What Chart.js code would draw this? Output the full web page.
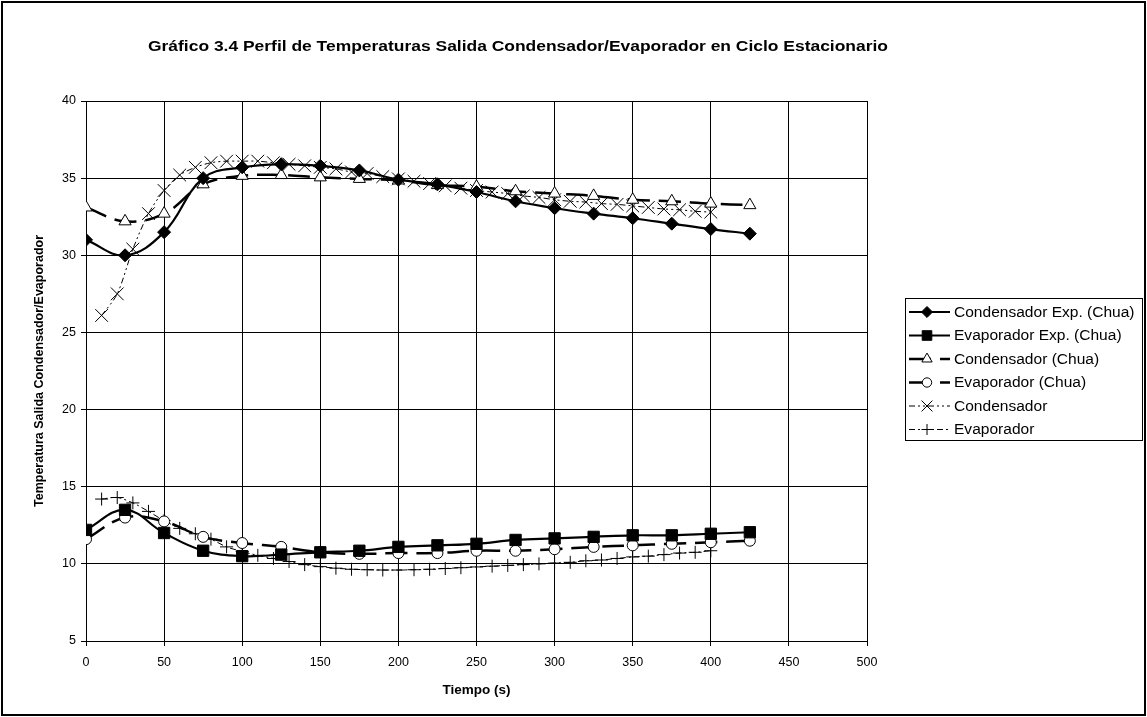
<!DOCTYPE html>
<html>
<head>
<meta charset="utf-8">
<script src="https://cdn.jsdelivr.net/npm/chart.js@4.4.0/dist/chart.umd.min.js"></script>
<style>
  html, body { margin: 0; padding: 0; background: #fff; }
</style>
</head>
<body>
<canvas id="myChart" width="1147" height="717"></canvas>
<script>
const chartTitle = "Gráfico 3.4 Perfil de Temperaturas Salida Condensador/Evaporador en Ciclo Estacionario";

// tiempos de los datos experimentales / modelo Chua
const tiempoExp = [0, 25, 50, 75, 100, 125, 150, 175, 200, 225, 250, 275, 300, 325, 350, 375, 400, 425];
const condensadorExp = [31.0, 30.0, 31.5, 35.0, 35.7, 35.9, 35.8, 35.5, 34.9, 34.6, 34.1, 33.5, 33.05, 32.7, 32.4, 32.05, 31.7, 31.4];
const evaporadorExp = [12.2, 13.5, 12.0, 10.85, 10.5, 10.6, 10.75, 10.85, 11.1, 11.2, 11.3, 11.55, 11.65, 11.75, 11.85, 11.85, 11.95, 12.05];
const condensadorChua = [33.1, 32.2, 32.7, 34.6, 35.15, 35.2, 35.05, 34.95, 34.85, 34.55, 34.45, 34.15, 34.0, 33.85, 33.6, 33.5, 33.35, 33.25];
const evaporadorChua = [11.6, 13.0, 12.75, 11.75, 11.35, 11.1, 10.75, 10.65, 10.7, 10.7, 10.85, 10.85, 10.95, 11.1, 11.2, 11.3, 11.4, 11.5];

// tiempos de la simulacion
const tiempoSim = [10, 20, 30, 40, 50, 60, 70, 80, 90, 100, 110, 120, 130, 140, 150, 160, 170, 180, 190, 200,
  210, 220, 230, 240, 250, 260, 270, 280, 290, 300, 310, 320, 330, 340, 350, 360, 370, 380, 390, 400];
const condensadorSim = [26.1, 27.5, 30.4, 32.7, 34.2, 35.2, 35.7, 36.0, 36.1, 36.1, 36.1, 36.0, 35.9, 35.8, 35.7, 35.6, 35.4, 35.3, 35.1, 34.95,
  34.8, 34.65, 34.5, 34.35, 34.2, 34.1, 34.0, 33.85, 33.75, 33.6, 33.5, 33.45, 33.35, 33.3, 33.2, 33.1, 33.0, 32.95, 32.85, 32.8];
const evaporadorSim = [14.2, 14.3, 13.95, 13.4, 12.8, 12.3, 11.95, 11.6, 11.1, 10.8, 10.55, 10.35, 10.15, 9.95, 9.82, 9.72, 9.65, 9.62, 9.6, 9.6,
  9.62, 9.65, 9.7, 9.75, 9.8, 9.85, 9.9, 9.95, 10.0, 10.05, 10.1, 10.2, 10.25, 10.35, 10.45, 10.5, 10.6, 10.7, 10.75, 10.85];

const xTicks = [0, 50, 100, 150, 200, 250, 300, 350, 400, 450, 500];
const yTicks = [5, 10, 15, 20, 25, 30, 35, 40];

const FONT = "'Liberation Sans', Arial, sans-serif";

function pts(xs, ys) {
  return xs.map((x, i) => ({ x: x, y: ys[i] }));
}

const series = [
  { label: "Condensador Exp. (Chua)", data: pts(tiempoExp, condensadorExp), pointStyle: "rectRot", radius: 6.5, fill: "#000", width: 2.2, dash: [], tension: 0.4 },
  { label: "Evaporador Exp. (Chua)", data: pts(tiempoExp, evaporadorExp), pointStyle: "rect", radius: 8, fill: "#000", width: 2.2, dash: [], tension: 0.4 },
  { label: "Condensador (Chua)", data: pts(tiempoExp, condensadorChua), pointStyle: "triangle", radius: 7, fill: "#fff", width: 2.5, dash: [22, 9], tension: 0.4 },
  { label: "Evaporador (Chua)", data: pts(tiempoExp, evaporadorChua), pointStyle: "circle", radius: 5.5, fill: "#fff", width: 2.5, dash: [22, 9], tension: 0.4 },
  { label: "Condensador", data: pts(tiempoSim, condensadorSim), pointStyle: "crossRot", radius: 9, fill: "#000", width: 1, dash: [6, 3, 2, 3, 2, 3], tension: 0.3 },
  { label: "Evaporador", data: pts(tiempoSim, evaporadorSim), pointStyle: "cross", radius: 6.5, fill: "#000", width: 1, dash: [6, 3, 2, 3], tension: 0.3 },
];

// texto algo ensanchado como en la imagen original
function wideText(ctx, text, x, y, sx) {
  ctx.save();
  ctx.translate(x, y);
  ctx.scale(sx, 1);
  ctx.fillText(text, 0, 0);
  ctx.restore();
}

// titulo, marco y leyenda al estilo Excel
const excelDecor = {
  id: "excelDecor",
  afterDraw(chart) {
    const ctx = chart.ctx;
    ctx.save();
    ctx.strokeStyle = "#000";
    ctx.lineWidth = 2;
    ctx.strokeRect(2, 2, 1143, 713);

    ctx.fillStyle = "#000";
    ctx.font = "bold 14px " + FONT;
    ctx.textAlign = "center";
    ctx.textBaseline = "middle";
    const tw = ctx.measureText(chartTitle).width;
    wideText(ctx, chartTitle, 518, 47, 740 / tw);

    ctx.lineWidth = 1;
    ctx.strokeRect(905.5, 298.5, 237, 142);
    ctx.font = "14px " + FONT;
    ctx.textAlign = "left";
    series.forEach((s, i) => {
      const y = 312 + i * 23.5;
      ctx.save();
      ctx.strokeStyle = "#000";
      ctx.lineWidth = s.width;
      ctx.setLineDash(s.dash);
      ctx.beginPath();
      ctx.moveTo(909, y);
      ctx.lineTo(950, y);
      ctx.stroke();
      ctx.setLineDash([]);
      ctx.lineWidth = 1;
      ctx.fillStyle = s.fill;
      Chart.helpers.drawPoint(ctx, { pointStyle: s.pointStyle, radius: s.radius * 0.85, rotation: 0, borderWidth: 1 }, 927, y);
      ctx.restore();
      ctx.fillStyle = "#000";
      wideText(ctx, s.label, 954, y + 1, 1.11);
    });
    ctx.restore();
  }
};

const ctx = document.getElementById("myChart");

new Chart(ctx, {
  type: "line",
  data: {
    datasets: series.map((s) => ({
      label: s.label,
      data: s.data,
      borderColor: "#000",
      borderWidth: s.width,
      borderDash: s.dash,
      tension: s.tension,
      fill: false,
      pointStyle: s.pointStyle,
      pointRadius: s.radius,
      pointBackgroundColor: s.fill,
      pointBorderColor: "#000",
      pointBorderWidth: 1,
    })),
  },
  options: {
    responsive: false,
    animation: false,
    layout: {
      padding: { top: 101, right: 280, bottom: 0, left: 0 },
    },
    plugins: {
      legend: { display: false },
      title: { display: false },
      tooltip: { enabled: false },
    },
    scales: {
      x: {
        type: "linear",
        min: 0,
        max: 500,
        afterFit(scale) { scale.height = 76; },
        afterBuildTicks(scale) { scale.ticks = xTicks.map((v) => ({ value: v })); },
        ticks: { color: "#000", font: { family: FONT, size: 12.5 }, padding: 9, maxRotation: 0 },
        grid: { color: "#000", lineWidth: 1, tickLength: 5 },
        border: { color: "#000", width: 1 },
        title: {
          display: true,
          text: "Tiempo (s)",
          color: "#000",
          font: { family: FONT, size: 13.5, weight: "bold" },
          padding: { top: 0, bottom: 19 },
        },
      },
      y: {
        min: 5,
        max: 40,
        afterFit(scale) { scale.width = 86; },
        afterBuildTicks(scale) { scale.ticks = yTicks.map((v) => ({ value: v })); },
        ticks: { color: "#000", font: { family: FONT, size: 12.5 }, padding: 5 },
        grid: { color: "#000", lineWidth: 1, tickLength: 5 },
        border: { color: "#000", width: 1 },
        title: {
          display: true,
          text: "Temperatura Salida Condensador/Evaporador",
          color: "#000",
          font: { family: FONT, size: 12.5, weight: "bold" },
          padding: { top: 32, bottom: 0 },
        },
      },
    },
  },
  plugins: [excelDecor],
});
</script>
</body>
</html>
